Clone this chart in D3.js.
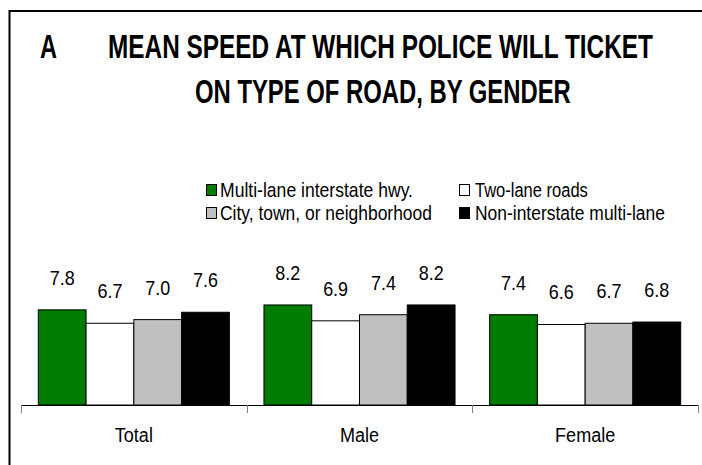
<!DOCTYPE html>
<html lang="en">
<head>
    <meta charset="UTF-8">
    <title>Mean speed at which police will ticket</title>
    <script src="https://cdn.jsdelivr.net/npm/d3@7/dist/d3.min.js"></script>
</head>
<style>
    body { margin: 0; background: #fff; }
    text { font-family: "Liberation Sans Narrow", "Arial Narrow", "Liberation Sans", sans-serif; fill: #000; }
    .title { font-weight: bold; font-size: 33px; }
    .valueLabel { font-size: 20px; text-anchor: middle; }
    .catLabel { font-size: 21px; text-anchor: middle; }
    .legendText { font-size: 21px; }
</style>
<body>
<script>
    var width = 702;
    var height = 465;

    // data
    var categories = ['Total', 'Male', 'Female'];
    var seriesNames = ['Multi-lane interstate hwy.', 'Two-lane roads', 'City, town, or neighborhood', 'Non-interstate multi-lane'];
    var multiLaneInterstate = [7.8, 8.2, 7.4];
    var twoLane = [6.7, 6.9, 6.6];
    var cityTown = [7.0, 7.4, 6.7];
    var nonInterstate = [7.6, 8.2, 6.8];
    var seriesColors = ['#007c00', '#ffffff', '#c0c0c0', '#000000'];

    var seriesValues = [multiLaneInterstate, twoLane, cityTown, nonInterstate];

    var svg = d3.select('body')
        .append('svg')
        .attr('width', width)
        .attr('height', height)

    // squeeze a text horizontally to a given width (no narrow font installed)
    function fitText(sel, x, y, w) {
        sel.attr('x', 0).attr('y', 0)
        var natural = sel.node().getComputedTextLength()
        var k = w ? w / natural : 0.86
        sel.attr('transform', 'translate(' + x + ',' + y + ') scale(' + k + ',1)')
    }

    // outer frame (right and bottom edges fall outside the picture)
    svg.append('rect')
        .attr('x', 9.5)
        .attr('y', 11)
        .attr('width', 740)
        .attr('height', 500)
        .attr('fill', 'none')
        .attr('stroke', '#000')
        .attr('stroke-width', 2)

    // title
    svg.append('text').attr('class', 'title').text('A')
        .call(fitText, 40, 58, 17)
    svg.append('text').attr('class', 'title').text('MEAN SPEED AT WHICH POLICE WILL TICKET')
        .call(fitText, 108, 58, 545)
    svg.append('text').attr('class', 'title').text('ON TYPE OF ROAD, BY GENDER')
        .call(fitText, 195, 103, 376)

    // legend
    var legendPos = [
        {x: 206, y: 184, tx: 220, ty: 197, w: 193},
        {x: 459, y: 184, tx: 475, ty: 197, w: 113},
        {x: 206, y: 207, tx: 220, ty: 220, w: 212},
        {x: 459, y: 207, tx: 475, ty: 220, w: 190}
    ]
    var legend = svg.selectAll('.legendItem')
        .data(seriesNames)
        .enter()
        .append('g')
        .attr('class', 'legendItem')
    legend.append('rect')
        .attr('x', function (d, i) { return legendPos[i].x + 0.5 })
        .attr('y', function (d, i) { return legendPos[i].y + 0.5 })
        .attr('width', 10)
        .attr('height', 11)
        .attr('fill', function (d, i) { return seriesColors[i] })
        .attr('stroke', '#000')
        .attr('stroke-width', 1)
    legend.append('text')
        .attr('class', 'legendText')
        .text(function (d) { return d })
        .each(function (d, i) {
            d3.select(this).call(fitText, legendPos[i].tx, legendPos[i].ty, legendPos[i].w)
        })

    // scales
    var plot = {left: 21, right: 698, bottom: 405}

    var x0 = d3.scaleBand()
        .domain(categories)
        .range([plot.left, plot.right])

    var groupPad = 17.3
    var x1 = d3.scaleBand()
        .domain(d3.range(seriesNames.length))
        .range([groupPad, x0.bandwidth() - groupPad])

    var yScale = d3.scaleLinear()
        .domain([0, 10])
        .range([plot.bottom, plot.bottom - 122])

    // bars
    var groups = svg.selectAll('.group')
        .data(categories)
        .enter()
        .append('g')
        .attr('class', 'group')
        .attr('transform', function (d) { return 'translate(' + x0(d) + ',0)' })

    function cells(d, ci) {
        return seriesValues.map(function (vals, si) { return {s: si, v: vals[ci]} })
    }

    groups.selectAll('rect')
        .data(cells)
        .enter()
        .append('rect')
        .attr('x', function (d) { return x1(d.s) })
        .attr('y', function (d) { return yScale(d.v) })
        .attr('width', x1.bandwidth())
        .attr('height', function (d) { return yScale(0) - yScale(d.v) })
        .attr('fill', function (d) { return seriesColors[d.s] })
        .attr('stroke', '#000')
        .attr('stroke-width', 1)

    groups.selectAll('.valueLabel')
        .data(cells)
        .enter()
        .append('text')
        .attr('class', 'valueLabel')
        .text(function (d) { return d.v.toFixed(1) })
        .each(function (d) {
            d3.select(this).call(fitText, x1(d.s) + x1.bandwidth() / 2, yScale(d.v) - 25, 25)
        })

    // x axis
    var xAxis = d3.axisBottom(x0).tickSize(0).tickFormat('')
    var axisG = svg.append('g')
        .attr('transform', 'translate(0,' + plot.bottom + ')')
        .call(xAxis)
    axisG.select('.domain').remove()
    axisG.append('line')
        .attr('x1', plot.left).attr('x2', plot.right)
        .attr('y1', 0.5).attr('y2', 0.5)
        .attr('stroke', '#000')

    var tickPos = categories.map(function (c) { return x0(c) }).concat([plot.right])
    axisG.selectAll('.sepTick')
        .data(tickPos)
        .enter()
        .append('line')
        .attr('class', 'sepTick')
        .attr('x1', function (d) { return Math.round(d) + 0.5 })
        .attr('x2', function (d) { return Math.round(d) + 0.5 })
        .attr('y1', 0)
        .attr('y2', 8)
        .attr('stroke', '#808080')

    svg.selectAll('.catLabel')
        .data(categories)
        .enter()
        .append('text')
        .attr('class', 'catLabel')
        .text(function (d) { return d })
        .each(function (d) {
            d3.select(this).call(fitText, x0(d) + x0.bandwidth() / 2, 442)
        })
</script>

</body>
</html>
